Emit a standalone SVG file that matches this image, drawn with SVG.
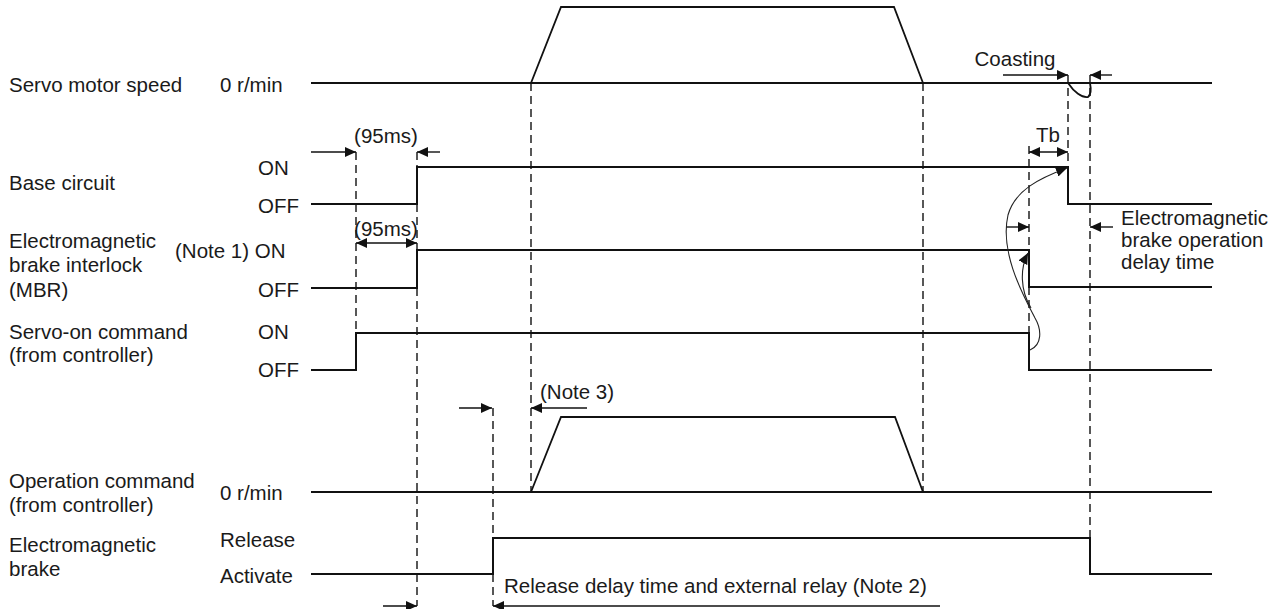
<svg xmlns="http://www.w3.org/2000/svg" width="1284" height="609" viewBox="0 0 1284 609">
<defs>
<style>
text{font-family:"Liberation Sans",Arial,sans-serif;font-size:20.5px;fill:#1a1a1a}
.sig{fill:none;stroke:#111;stroke-width:2}
.ramp{fill:none;stroke:#111;stroke-width:1.8}
.dash{fill:none;stroke:#111;stroke-width:1.4;stroke-dasharray:8 5}
.dim{fill:none;stroke:#111;stroke-width:1.4;marker-end:url(#ah)}
.dbl{fill:none;stroke:#111;stroke-width:1.4;marker-end:url(#ah);marker-start:url(#ah)}
.crv{fill:none;stroke:#222;stroke-width:1.1;marker-end:url(#ah)}
</style>
<marker id="ah" markerUnits="userSpaceOnUse" markerWidth="11" markerHeight="10" refX="11" refY="5" orient="auto-start-reverse" viewBox="0 0 11 10">
<path d="M0,0 L11,5 L0,10 z" fill="#111"/>
</marker>
</defs>

<g id="labels">
<text x="9" y="92">Servo motor speed</text>
<text x="220" y="92">0 r/min</text>
<text x="9" y="190">Base circuit</text>
<text x="258" y="175">ON</text>
<text x="258" y="213">OFF</text>
<text x="9" y="248">Electromagnetic</text>
<text x="9" y="272">brake interlock</text>
<text x="9" y="297">(MBR)</text>
<text x="175" y="258">(Note 1) ON</text>
<text x="258" y="297">OFF</text>
<text x="9" y="339">Servo-on command</text>
<text x="9" y="362">(from controller)</text>
<text x="258" y="339">ON</text>
<text x="258" y="377">OFF</text>
<text x="9" y="488">Operation command</text>
<text x="9" y="512">(from controller)</text>
<text x="220" y="500">0 r/min</text>
<text x="9" y="552">Electromagnetic</text>
<text x="9" y="576">brake</text>
<text x="220" y="547">Release</text>
<text x="220" y="583">Activate</text>
</g>

<g id="servo-motor-speed">
<path class="sig" d="M311,83 H1212"/>
<path class="ramp" d="M531,83 L561,7 H894 L923,83"/>
<path class="ramp" d="M1068,83 C1074,92 1082,98 1088,97 C1091,95 1091,88 1090,83"/>
</g>

<g id="base-circuit">
<path class="sig" d="M311,204 H417 V167 H1068 V204 H1212"/>
</g>

<g id="mbr">
<path class="sig" d="M311,288 H417 V250 H1029 V287 H1212"/>
</g>

<g id="servo-on">
<path class="sig" d="M311,370 H356 V333 H1029 V370 H1212"/>
</g>

<g id="operation-command">
<path class="sig" d="M311,492 H1212"/>
<path class="ramp" d="M531,492 L561,417 H895 L923,492"/>
</g>

<g id="brake">
<path class="sig" d="M311,574 H493 V538 H1090 V574 H1212"/>
</g>

<g id="dashed-lines">
<path class="dash" d="M356,152 V333"/>
<path class="dash" d="M417,152 V167"/>
<path class="dash" d="M417,204 V250"/>
<path class="dash" d="M417,288 V606"/>
<path class="dash" d="M493,408 V538"/>
<path class="dash" d="M493,574 V606"/>
<path class="dash" d="M531,83 V492"/>
<path class="dash" d="M923,83 V492"/>
<path class="dash" d="M1068,75 V167"/>
<path class="dash" d="M1029,146 V250"/>
<path class="dash" d="M1029,287 V333"/>
<path class="dash" d="M1090,75 V538"/>
</g>

<g id="connectors">
<path class="dim" d="M311,152 H356"/>
<path class="dim" d="M440,152 H417"/>
<path class="dbl" d="M356,243 H417"/>
<path class="dbl" d="M1029,152 H1068"/>
<path class="dim" d="M1003,75 H1068"/>
<path class="dim" d="M1112,75 H1090"/>
<path class="dim" d="M1006,227 H1029"/>
<path class="dim" d="M1113,227 H1090"/>
<path class="dim" d="M459,408 H492"/>
<path class="dim" d="M587,408 H531"/>
<path class="dim" d="M383,606 H417"/>
<path class="dim" d="M940,606 H493"/>
<path class="crv" d="M1030,350 C1042,345 1042,330 1035,318 C1020,290 1000,250 1008,215 C1015,190 1040,178 1067,168"/>
<path class="crv" d="M1031,308 C1020,290 1020,268 1028,253"/>
</g>

<g id="annotations">
<text x="386" y="143" text-anchor="middle">(95ms)</text>
<text x="386" y="236" text-anchor="middle">(95ms)</text>
<text x="1048" y="142" text-anchor="middle">Tb</text>
<text x="1015" y="66" text-anchor="middle">Coasting</text>
<text x="1121" y="225">Electromagnetic</text>
<text x="1121" y="247">brake operation</text>
<text x="1121" y="269">delay time</text>
<text x="540" y="399">(Note 3)</text>
<text x="504" y="593">Release delay time and external relay (Note 2)</text>
</g>
</svg>
